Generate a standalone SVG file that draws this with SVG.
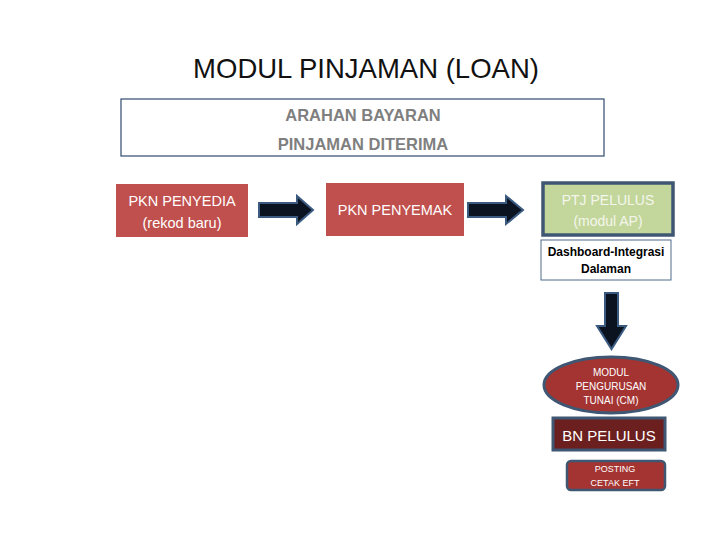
<svg xmlns="http://www.w3.org/2000/svg" width="720" height="540" viewBox="0 0 720 540">
<style>
text{font-family:"Liberation Sans",Arial,sans-serif;text-anchor:middle}
.w{fill:#fff}
.red{fill:#C0504D}
.arrow{fill:#0B1220;stroke:#3A5A80;stroke-width:2}
</style>
<rect width="720" height="540" fill="#fff"/>
<text x="366" y="78" font-size="27.5" fill="#111">MODUL PINJAMAN (LOAN)</text>
<g id="arahan">
<rect x="121" y="99" width="483" height="57" fill="#fff" stroke="#2F4A6E" stroke-width="1.2"/>
<text x="363" y="121" font-size="16.5" fill="#7F7F7F" font-weight="bold">ARAHAN BAYARAN</text>
<text x="363" y="150" font-size="16.5" fill="#7F7F7F" font-weight="bold">PINJAMAN DITERIMA</text>
</g>
<g id="penyedia">
<rect x="116" y="184" width="132" height="53" class="red"/>
<text x="182" y="206" font-size="14.5" class="w">PKN PENYEDIA</text>
<text x="182" y="228" font-size="14.5" class="w">(rekod baru)</text>
</g>
<g id="penyemak">
<rect x="326" y="183" width="138" height="53" class="red"/>
<text x="395" y="215" font-size="14.5" class="w">PKN PENYEMAK</text>
</g>
<g id="ptj">
<rect x="543" y="183" width="130" height="52" fill="#C3D69B" stroke="#3F5773" stroke-width="3.5"/>
<text x="608" y="205" font-size="14" fill="#F4F6EC">PTJ PELULUS</text>
<text x="608" y="226" font-size="14" fill="#F4F6EC">(modul AP)</text>
</g>
<g id="dashboard">
<rect x="541" y="240" width="130" height="40" fill="#fff" stroke="#4F6A8A" stroke-width="1"/>
<text x="606" y="256" font-size="12" font-weight="bold" fill="#000">Dashboard-Integrasi</text>
<text x="606" y="273" font-size="12" font-weight="bold" fill="#000">Dalaman</text>
</g>
<g id="cm">
<ellipse cx="611" cy="385" rx="67" ry="28" fill="#A33432" stroke="#3F5773" stroke-width="3"/>
<text x="611" y="376" font-size="10" class="w">MODUL</text>
<text x="611" y="390" font-size="10" class="w">PENGURUSAN</text>
<text x="611" y="404" font-size="10" class="w">TUNAI (CM)</text>
</g>
<g id="bn">
<rect x="553" y="418" width="112" height="32" fill="#6B1F1F" stroke="#3F5773" stroke-width="3"/>
<text x="609" y="441" font-size="15" class="w">BN PELULUS</text>
</g>
<g id="posting">
<rect x="567" y="461" width="98" height="29" rx="4" fill="#A33432" stroke="#3F5773" stroke-width="2.5"/>
<text x="615" y="472" font-size="9" class="w">POSTING</text>
<text x="615" y="486" font-size="9" class="w">CETAK EFT</text>
</g>
<g id="connectors">
<polygon class="arrow" points="259,203 297,203 297,196 313,210 297,224 297,217 259,217"/>
<polygon class="arrow" points="468,203 506,203 506,196 523,210 506,224 506,217 468,217"/>
<polygon class="arrow" points="605,293 618,293 618,326 626,326 611.5,349 597,326 605,326"/>
</g>
</svg>
